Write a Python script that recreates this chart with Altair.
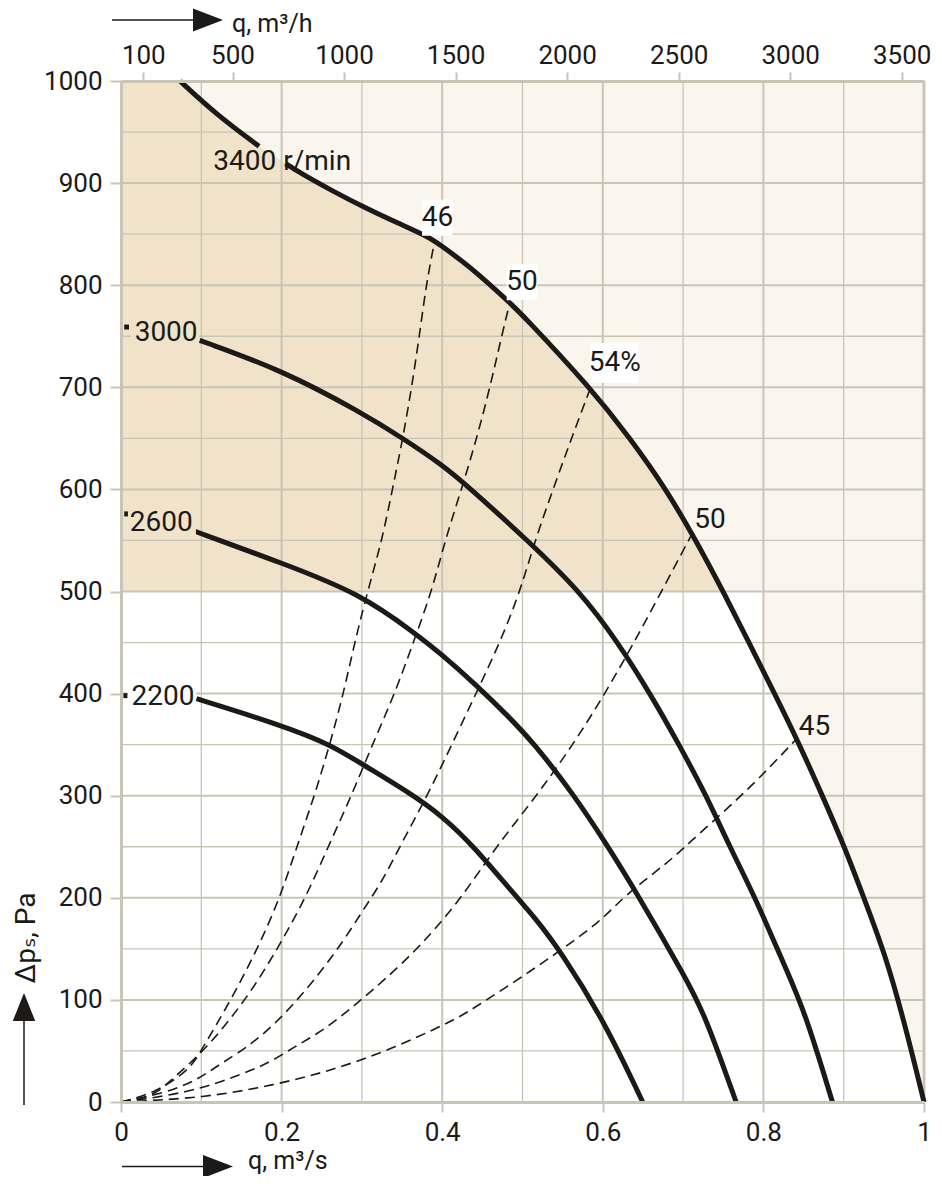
import altair as alt
import pandas as pd

FONT = "Roboto, DejaVu Sans"
INK = "#1b1a18"
GRID = "#c8c5b7"
LIGHT = "#faf6ee"
DARK = "#f0e3c9"
CURVE = "basis"

# ---------------- axes / grid values ----------------
x_ticks = [0, 0.2, 0.4, 0.6, 0.8, 1.0]
y_ticks = [0, 100, 200, 300, 400, 500, 600, 700, 800, 900, 1000]
top_ticks_m3h = [100, 500, 1000, 1500, 2000, 2500, 3000, 3500]
grid_q_major = [0.2, 0.4, 0.6, 0.8]
grid_q_minor = [0.1, 0.3, 0.5, 0.7, 0.9]
grid_p_major = [100, 200, 300, 400, 500, 600, 700, 800, 900]
grid_p_minor = [50, 150, 250, 350, 450, 550, 650, 750, 850, 950]

# ---------------- shaded zones (q m3/s, p Pa) ----------------
light_q0 = [0.0, 0.8]
light_q1 = [1.0, 1.0]
light_p0 = [500, 0]
light_p1 = [1000, 500]

# ---------------- fan curves (q m3/s, dp Pa) ----------------
# a new line segment starts at the listed index (label covers the line)
n3400_q = [0.0735, 0.119, 0.172, 0.205, 0.223, 0.264, 0.306, 0.347, 0.384, 0.4, 0.435,
           0.484, 0.5, 0.584, 0.634, 0.679, 0.716, 0.75, 0.782, 0.814, 0.845, 0.874, 0.901,
           0.926, 0.951, 0.975, 1.0]
n3400_p = [1000, 967, 936, 919, 910, 892, 875, 860, 847, 838, 818,
           783, 771, 700, 650, 600, 550, 500, 450, 400, 350, 299, 250,
           198, 146, 80, 0]
n3400_breaks = [3]

n3000_q = [0.004, 0.010, 0.098, 0.2, 0.3, 0.351, 0.4, 0.432, 0.505, 0.572, 0.619, 0.659,
           0.695, 0.729, 0.758, 0.79, 0.826, 0.851, 0.886]
n3000_p = [759, 759, 746, 717, 675, 650, 624, 603, 551, 500, 450, 400,
           350, 300, 250, 200, 134, 90, 0]
n3000_breaks = [2]

n2600_q = [0.004, 0.010, 0.092, 0.2, 0.298, 0.368, 0.397, 0.443, 0.482, 0.5135, 0.563, 0.605,
           0.642, 0.7015, 0.7265, 0.766]
n2600_p = [576, 576, 559, 528, 498, 458, 440, 408, 378, 352, 302, 252,
           205, 124, 87, 0]
n2600_breaks = [2]

n2200_q = [0.003, 0.008, 0.094, 0.2, 0.2615, 0.3, 0.361, 0.4, 0.4387, 0.49, 0.516, 0.548,
           0.602, 0.6497]
n2200_p = [398, 398, 395, 369, 350, 331, 302, 280, 251, 203, 180, 147,
           79, 0]
n2200_breaks = [2]

# ---------------- efficiency lines (dashed) ----------------
eff46_q = [0, 0.0415, 0.085, 0.0996, 0.137, 0.170, 0.198, 0.219, 0.241, 0.26, 0.277, 0.291,
           0.307, 0.325, 0.338, 0.351, 0.362, 0.3715, 0.38, 0.39]
eff46_p = [0, 8.5, 31, 50, 100, 150, 200, 250, 300, 350, 400, 450,
           500, 550, 600, 650, 700, 750, 800, 841]

eff50a_q = [0, 0.04, 0.062, 0.104, 0.1557, 0.195, 0.23, 0.258, 0.287, 0.313, 0.341, 0.364,
            0.387, 0.4035, 0.424, 0.443, 0.4595, 0.474, 0.4836]
eff50a_p = [0, 5, 21.5, 50, 100, 150, 200, 250, 300, 350, 400, 450,
            500, 550, 600, 650, 700, 750, 781]

eff54_q = [0, 0.054, 0.0955, 0.1245, 0.166, 0.216, 0.27, 0.299, 0.326, 0.347, 0.3815, 0.412,
           0.442, 0.472, 0.497, 0.5156, 0.538, 0.561, 0.583]
eff54_p = [0, 8.5, 21.5, 38, 57.5, 95, 149, 185, 217, 250, 300, 350,
           400, 450, 500, 550, 600, 650, 696]

eff50b_q = [0, 0.083, 0.154, 0.187, 0.216, 0.245, 0.274, 0.301, 0.328, 0.365, 0.39, 0.424,
            0.467, 0.5177, 0.563, 0.6027, 0.639, 0.673, 0.7095]
eff50b_p = [0, 8.5, 28, 39.5, 54, 67, 83.5, 101.6, 119.5, 147, 168.5, 200,
            250, 300, 350, 400, 450, 500, 554]

eff45_q = [0, 0.104, 0.191, 0.257, 0.332, 0.411, 0.436, 0.519, 0.6, 0.6235, 0.685, 0.702,
           0.773, 0.808, 0.8406]
eff45_p = [0, 4, 16.7, 29.7, 50, 78.7, 90, 132.5, 178, 200, 237, 250,
           300, 328, 355]

# ---------------- labels ----------------
speed_text = ["3400 r/min", "3000", "2600", "2200"]
speed_q = [0.115, 0.017, 0.011, 0.013]
speed_p = [921, 753, 567, 397]
speed_box_q = [0.0548, 0.051, 0.051]
speed_box_p = [753, 567, 397]
speed_box_bg = [DARK, DARK, "#ffffff"]

eff_text = ["46", "50", "54%", "50", "45"]
eff_q = [0.394, 0.4994, 0.6148, 0.7335, 0.8636]
eff_p = [866, 803, 724, 570, 367]

# ---------------- build tables ----------------
def curve_rows(name, qs, ps, breaks):
    rows, seg = [], 0
    for i, (q, p) in enumerate(zip(qs, ps)):
        if i in breaks:
            seg += 1
        rows.append({"curve": name, "seg": f"{name}-{seg}", "q": q, "p": p})
    return rows

curves = pd.DataFrame(
    curve_rows("3400", n3400_q, n3400_p, n3400_breaks)
    + curve_rows("3000", n3000_q, n3000_p, n3000_breaks)
    + curve_rows("2600", n2600_q, n2600_p, n2600_breaks)
    + curve_rows("2200", n2200_q, n2200_p, n2200_breaks)
)

eff_rows = []
for name, qs, ps in [("46", eff46_q, eff46_p), ("50a", eff50a_q, eff50a_p),
                     ("54", eff54_q, eff54_p), ("50b", eff50b_q, eff50b_p),
                     ("45", eff45_q, eff45_p)]:
    for q, p in zip(qs, ps):
        eff_rows.append({"line": name, "q": q, "p": p})
effs = pd.DataFrame(eff_rows)

# dark zone: below the 3400 curve and above 500 Pa (start point repeated so the
# spline boundary follows the curve exactly from the top edge)
upper = [(q, p) for q, p in zip(n3400_q, n3400_p) if p >= 500]
dark_pts = [(0.0, 1000)] + [upper[0]] * 2 + upper
dark_df = pd.DataFrame([{"q": q, "p": p, "base": 500} for q, p in dark_pts])
white_df = pd.DataFrame(
    [{"q": q, "p": p, "base": 0} for q, p in zip(n3400_q, n3400_p) if p <= 500]
)
light_df = pd.DataFrame({"q0": light_q0, "q1": light_q1, "p0": light_p0, "p1": light_p1})

speed_df = pd.DataFrame({"t": speed_text, "q": speed_q, "p": speed_p})
speed_box_df = pd.DataFrame({"q": speed_box_q, "p": speed_box_p, "bg": speed_box_bg})
eff_df = pd.DataFrame({"t": eff_text, "q": eff_q, "p": eff_p})

one = pd.DataFrame({"k": [0]})

# ---------------- scales / axes ----------------
xs = alt.Scale(domain=[0, 1], nice=False, zero=False)
ys = alt.Scale(domain=[0, 1000], nice=False, zero=False)

common_axis = dict(title=None, grid=False, domainColor=GRID, domainWidth=3,
                   tickColor=GRID, tickWidth=2, labelFont=FONT, labelFontSize=26,
                   labelColor=INK, labelFlush=False, labelOverlap=False, zindex=1)
x_axis = alt.Axis(orient="bottom", values=x_ticks, format="~g", tickSize=10,
                  labelPadding=7, **common_axis)
y_axis = alt.Axis(orient="left", values=y_ticks, format="d", tickSize=11,
                  labelPadding=8, **common_axis)
top_axis = alt.Axis(orient="top", values=top_ticks_m3h, format="d", tickSize=9,
                    labelPadding=4, **common_axis)


def X(field="q"):
    return alt.X(f"{field}:Q", scale=xs, axis=x_axis)


def Y(field="p"):
    return alt.Y(f"{field}:Q", scale=ys, axis=y_axis)


layers = []

# shaded zones
layers.append(alt.Chart(light_df).mark_rect(color=LIGHT).encode(
    x=X("q0"), x2="q1:Q", y=Y("p0"), y2="p1:Q"))
layers.append(alt.Chart(white_df).mark_area(color="#ffffff", interpolate=CURVE).encode(
    x=X(), y=Y(), y2="base:Q"))
layers.append(alt.Chart(dark_df).mark_area(color=DARK, interpolate=CURVE).encode(
    x=X(), y=Y(), y2="base:Q"))

# grid
layers.append(alt.Chart(pd.DataFrame({"q": grid_q_minor})).mark_rule(
    color=GRID, strokeWidth=1.3).encode(x=X()))
layers.append(alt.Chart(pd.DataFrame({"p": grid_p_minor})).mark_rule(
    color=GRID, strokeWidth=1.3).encode(y=Y()))
layers.append(alt.Chart(pd.DataFrame({"q": grid_q_major})).mark_rule(
    color=GRID, strokeWidth=2).encode(x=X()))
layers.append(alt.Chart(pd.DataFrame({"p": grid_p_major})).mark_rule(
    color=GRID, strokeWidth=2).encode(y=Y()))
layers.append(alt.Chart(pd.DataFrame({"q": [1.0]})).mark_rule(
    color=GRID, strokeWidth=3).encode(x=X()))

# efficiency lines
layers.append(alt.Chart(effs).mark_line(color=INK, strokeWidth=1.6, strokeDash=[10, 6],
                                         interpolate=CURVE).encode(
    x=X(), y=Y(), detail="line:N"))

# fan curves
layers.append(alt.Chart(curves).mark_line(color=INK, strokeWidth=5, strokeCap="butt",
                                           strokeJoin="round", interpolate=CURVE).encode(
    x=X(), y=Y(), detail="seg:N"))

# label boxes
BOX_SPEED = "M-1,-0.44H1V0.44H-1Z"
layers.append(alt.Chart(speed_box_df).mark_point(shape=BOX_SPEED, size=68 * 68, filled=True,
                                                  opacity=1, strokeWidth=0).encode(
    x=X(), y=Y(), color=alt.Color("bg:N", scale=None)))
eff_box_small = eff_df[eff_df["t"].isin(["46"]) | ((eff_df["t"] == "50") & (eff_df["q"] < 0.6))]
eff_box_big = eff_df[eff_df["t"] == "54%"]
layers.append(alt.Chart(eff_box_small).mark_point(shape="M-0.85,-1H0.85V1H-0.85Z", size=36 * 36,
                                                   filled=True, opacity=1, strokeWidth=0,
                                                   color="#ffffff").encode(x=X(), y=Y()))
layers.append(alt.Chart(eff_box_big).mark_point(shape="M-1,-0.83H1V0.83H-1Z", size=48 * 48,
                                                 filled=True, opacity=1, strokeWidth=0,
                                                 color="#ffffff").encode(x=X(), y=Y()))

# labels
layers.append(alt.Chart(speed_df).mark_text(font=FONT, fontSize=28, color=INK, align="left",
                                             baseline="middle").encode(
    x=X(), y=Y(), text="t:N"))
layers.append(alt.Chart(eff_df).mark_text(font=FONT, fontSize=28, color=INK, align="center",
                                           baseline="middle").encode(
    x=X(), y=Y(), text="t:N"))

# axis titles with arrows (pixel positions relative to the plot area)
base = alt.Chart(one)
layers.append(base.mark_text(font=FONT, fontSize=25, color=INK, align="left",
                             baseline="alphabetic", text="q, m³/s").encode(
    x=alt.value(127), y=alt.value(1088)))
layers.append(base.mark_rule(color=INK, strokeWidth=1.5).encode(
    x=alt.value(1), x2=alt.value(90), y=alt.value(1085.5)))
layers.append(base.mark_point(shape="M-1,-0.77L1,0L-1,0.77Z", size=900, filled=True,
                              opacity=1, color=INK, strokeWidth=0).encode(
    x=alt.value(97), y=alt.value(1085.5)))

layers.append(base.mark_text(font=FONT, fontSize=25, color=INK, align="left",
                             baseline="alphabetic", text="q, m³/h").encode(
    x=alt.value(111), y=alt.value(-49.5)))
layers.append(base.mark_rule(color=INK, strokeWidth=1.5).encode(
    x=alt.value(-9), x2=alt.value(80), y=alt.value(-61)))
layers.append(base.mark_point(shape="M-1,-0.77L1,0L-1,0.77Z", size=900, filled=True,
                              opacity=1, color=INK, strokeWidth=0).encode(
    x=alt.value(87), y=alt.value(-61)))

layers.append(base.mark_text(font=FONT, fontSize=28, color=INK, align="center",
                             baseline="middle", angle=270, text="Δpₛ, Pa").encode(
    x=alt.value(-94), y=alt.value(857)))
layers.append(base.mark_rule(color=INK, strokeWidth=1.5).encode(
    x=alt.value(-97), y=alt.value(932), y2=alt.value(1024)))
layers.append(base.mark_point(shape="M-0.8,1L0,-1L0.8,1Z", size=784, filled=True,
                              opacity=1, color=INK, strokeWidth=0).encode(
    x=alt.value(-97), y=alt.value(926)))

main = alt.layer(*layers)

top = alt.Chart(pd.DataFrame({"qh": top_ticks_m3h})).mark_point(opacity=0).encode(
    x=alt.X("qh:Q", scale=alt.Scale(domain=[0, 3600], nice=False, zero=False), axis=top_axis)
)

chart = alt.layer(main, top).resolve_scale(x="independent").properties(
    width=803, height=1021,
    autosize=alt.AutoSizeParams(type="none"),
    padding={"left": 113, "top": 73, "right": 10, "bottom": 74},
).configure_view(strokeOpacity=0)

chart.save("out.html", embed_options={"renderer": "svg", "actions": False})
